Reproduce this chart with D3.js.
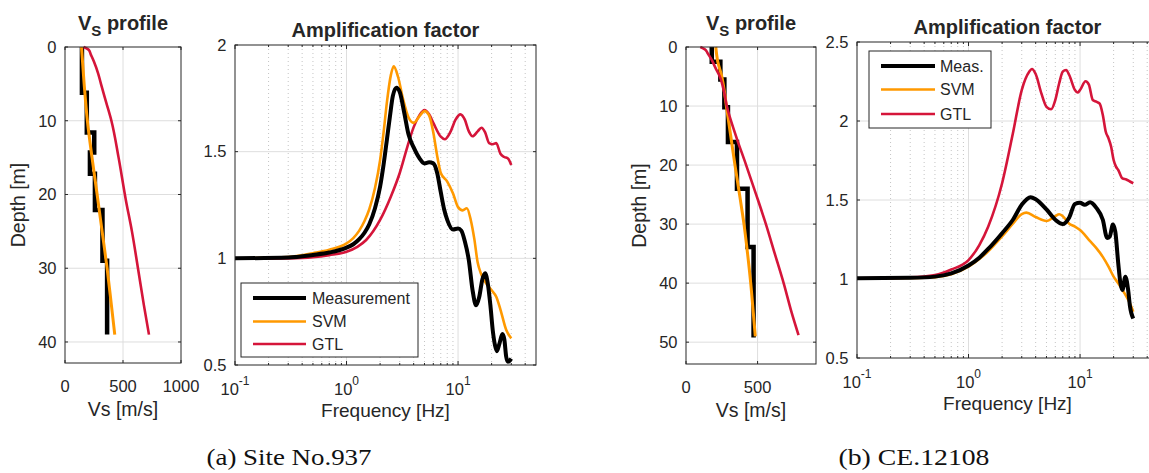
<!DOCTYPE html>
<html>
<head>
<meta charset="utf-8">
<script src="https://cdn.jsdelivr.net/npm/d3@7"></script>
<style>
  body { margin: 0; background: #fff; }
  svg { display: block; }
  text { font-family: "Liberation Sans", Arial, Helvetica, sans-serif; fill: #262626; }
  .caption { font-family: "Liberation Serif", "DejaVu Serif", serif; fill: #111; }
</style>
</head>
<body>
<script>
// ---------- Site No.937 : shear-wave velocity profile ----------
const measTopA    = [0, 6.2, 11.6, 14.3, 17.2, 22.1, 29.0];   // layer tops [m]
const measVsA     = [146, 188, 252, 215, 258, 323, 363];       // layer Vs [m/s]
const measBottomA = 39;
const svmDepthA = [0, 5, 10, 15, 20, 25, 30, 35, 39];
const svmVsA    = [142, 165, 193, 233, 277, 320, 363, 400, 429];
const gtlDepthA = [0, 0.4, 1, 2, 3.6, 5, 7.5, 10, 15, 20.7, 25, 30, 35, 39];
const gtlVsA    = [160, 205, 222, 250, 286, 310, 355, 400, 462, 524, 577, 629, 680, 724];

// ---------- Site No.937 : amplification factor ----------
const fMeasA   = [0.1, 0.3, 0.5, 0.7, 1, 1.15, 1.3, 1.45, 1.6, 1.8, 2, 2.15, 2.3, 2.45, 2.6, 2.8, 3.0, 3.3, 3.6, 4, 4.5, 5, 5.5, 6, 6.5, 7, 7.5, 8, 9, 10, 10.7, 11.5, 12.5, 13.5, 14.5, 15.5, 16.5, 17.5, 18.5, 19.5, 20.5, 21.5, 22.3, 23.5, 25, 26, 27, 28, 29, 30];
const ampMeasA = [1.0, 1.004, 1.016, 1.027, 1.05, 1.066, 1.09, 1.12, 1.16, 1.235, 1.336, 1.44, 1.555, 1.665, 1.76, 1.80, 1.78, 1.68, 1.58, 1.52, 1.47, 1.445, 1.45, 1.445, 1.40, 1.31, 1.23, 1.18, 1.135, 1.14, 1.13, 1.08, 0.99, 0.85, 0.78, 0.82, 0.90, 0.93, 0.88, 0.78, 0.66, 0.59, 0.565, 0.60, 0.645, 0.62, 0.54, 0.515, 0.52, 0.53];
const fSvmA    = [0.1, 0.3, 0.5, 0.7, 1, 1.15, 1.3, 1.45, 1.6, 1.8, 2, 2.15, 2.3, 2.5, 2.65, 2.9, 3.2, 3.6, 4, 4.5, 5, 5.5, 6, 6.5, 7, 8, 9, 10, 11, 12, 13, 14, 15, 16, 17.5, 20, 22, 24, 27, 30];
const ampSvmA  = [1.0, 1.006, 1.024, 1.04, 1.07, 1.095, 1.13, 1.175, 1.23, 1.33, 1.46, 1.59, 1.73, 1.86, 1.90, 1.85, 1.75, 1.66, 1.635, 1.665, 1.69, 1.67, 1.59, 1.48, 1.40, 1.36, 1.305, 1.24, 1.225, 1.235, 1.18, 1.09, 0.98, 0.93, 0.89, 0.85, 0.82, 0.76, 0.665, 0.625];
const fGtlA    = [0.1, 0.3, 0.5, 0.7, 1, 1.25, 1.5, 2, 2.5, 3, 3.5, 4, 4.5, 5, 5.5, 6, 7, 7.6, 8.5, 9.5, 10.5, 11.5, 12.5, 13.5, 15, 16.2, 17.5, 19, 20.5, 22, 24, 26, 28, 30];
const ampGtlA  = [0.998, 1.0, 1.005, 1.015, 1.031, 1.054, 1.086, 1.18, 1.29, 1.40, 1.52, 1.615, 1.67, 1.695, 1.675, 1.635, 1.57, 1.558, 1.59, 1.65, 1.675, 1.65, 1.595, 1.572, 1.595, 1.612, 1.59, 1.54, 1.535, 1.54, 1.49, 1.475, 1.468, 1.438];

// ---------- CE.12108 : shear-wave velocity profile ----------
const measTopB    = [0, 2.5, 5.5, 10.2, 16.1, 24.0, 33.9];
const measVsB     = [180, 240, 268, 293, 356, 430, 472];
const measBottomB = 49.2;
const svmDepthB = [0, 2.5, 5, 7.5, 10, 15, 20, 25, 30, 35, 40, 45, 49];
const svmVsB    = [208, 222, 250, 268, 282, 312, 342, 374, 405, 430, 452, 470, 484];
const gtlDepthB = [0, 0.4, 1, 2.2, 3.5, 5, 7.5, 10, 15, 20, 25, 30, 35, 40, 45, 48.8];
const gtlVsB    = [100, 132, 150, 180, 205, 236, 265, 285, 348, 420, 490, 558, 620, 682, 738, 786];

// ---------- CE.12108 : amplification factor ----------
const fMeasB   = [0.1, 0.3, 0.5, 0.7, 1, 1.25, 1.5, 2, 2.5, 3, 3.6, 4, 5, 6, 7, 8, 9, 10, 11, 12.3, 14, 16, 17.5, 18.5, 19.7, 20.7, 22, 23, 24, 25.5, 27, 28, 30];
const ampMeasB = [1.005, 1.008, 1.015, 1.035, 1.085, 1.135, 1.19, 1.29, 1.375, 1.47, 1.518, 1.505, 1.44, 1.375, 1.348, 1.39, 1.475, 1.483, 1.47, 1.485, 1.45, 1.375, 1.26, 1.27, 1.345, 1.30, 1.10, 0.975, 0.93, 1.015, 0.93, 0.83, 0.75];
const fSvmB    = [0.1, 0.3, 0.5, 0.7, 1, 1.25, 1.5, 2, 2.5, 3, 3.3, 4, 5, 6, 6.5, 7, 8, 9, 10, 12, 14, 16, 18, 20, 22, 25, 28, 30];
const ampSvmB  = [1.003, 1.006, 1.012, 1.03, 1.078, 1.126, 1.175, 1.27, 1.35, 1.41, 1.42, 1.392, 1.367, 1.398, 1.41, 1.397, 1.35, 1.332, 1.31, 1.248, 1.195, 1.14, 1.078, 1.015, 0.973, 0.91, 0.846, 0.793];
const fGtlB    = [0.1, 0.3, 0.5, 0.7, 1, 1.25, 1.5, 2, 2.5, 3, 3.5, 3.7, 4, 4.5, 5, 5.5, 6, 6.5, 7, 7.5, 8, 9, 9.5, 10, 11.2, 12, 13, 14, 15, 16, 17, 18, 19, 20, 21, 22, 24, 26, 28, 30];
const ampGtlB  = [1.004, 1.01, 1.025, 1.06, 1.12, 1.215, 1.331, 1.606, 1.922, 2.196, 2.312, 2.329, 2.297, 2.175, 2.09, 2.074, 2.133, 2.239, 2.312, 2.323, 2.291, 2.196, 2.18, 2.196, 2.252, 2.23, 2.133, 2.122, 2.11, 2.038, 1.932, 1.89, 1.837, 1.753, 1.711, 1.69, 1.637, 1.63, 1.617, 1.606];

// ---------- axes ticks, labels ----------
const vsTicksA    = [0, 500, 1000];
const depthTicksA = [0, 10, 20, 30, 40];
const vsTicksB    = [0, 500];
const depthTicksB = [0, 10, 20, 30, 40, 50];
const freqTicks   = [0.1, 1, 10];
const freqExps    = ["-1", "0", "1"];
const ampTicksA   = [0.5, 1, 1.5, 2];
const ampTicksB   = [0.5, 1, 1.5, 2, 2.5];
const legendA  = ["Measurement", "SVM", "GTL"];
const legendB  = ["Meas.", "SVM", "GTL"];
const captions = ["(a) Site No.937", "(b) CE.12108"];

// ---------- styling ----------
const COL = { meas: "#000000", svm: "#FF9900", gtl: "#D5153A" };
const AXIS = "#262626", GRID = "#dedede", MINOR = "#c4c4c4";

const W = 1149, H = 473;
const svg = d3.select("body").append("svg").attr("width", W).attr("height", H);

function frame(g, b) {
  g.append("rect").attr("x", b.x0).attr("y", b.y0)
    .attr("width", b.x1 - b.x0).attr("height", b.y1 - b.y0)
    .attr("fill", "none").attr("stroke", AXIS).attr("stroke-width", 1);
}

function hLine(g, x0, x1, yv, color, dash) {
  g.append("line").attr("x1", x0).attr("x2", x1).attr("y1", yv).attr("y2", yv)
    .attr("stroke", color).attr("stroke-width", 1).attr("stroke-dasharray", dash || null);
}
function vLine(g, xv, y0, y1, color, dash) {
  g.append("line").attr("x1", xv).attr("x2", xv).attr("y1", y0).attr("y2", y1)
    .attr("stroke", color).attr("stroke-width", 1).attr("stroke-dasharray", dash || null);
}

// ---------- velocity profile panel ----------
function vsPanel(b, vsMax, depthMax, vsTicks, depthTicks, meas, svm, gtl, title) {
  const g = svg.append("g");
  const x = d3.scaleLinear().domain([0, vsMax]).range([b.x0, b.x1]);
  const y = d3.scaleLinear().domain([0, depthMax]).range([b.y0, b.y1]);

  vsTicks.forEach(t => { if (t > 0 && t < vsMax) vLine(g, x(t), b.y0, b.y1, GRID); });
  depthTicks.forEach(t => { if (t > 0) hLine(g, b.x0, b.x1, y(t), GRID); });

  // tick marks inside the box
  vsTicks.forEach(t => {
    vLine(g, x(t), b.y1, b.y1 - 3, AXIS);
    vLine(g, x(t), b.y0, b.y0 + 3, AXIS);
  });
  depthTicks.forEach(t => {
    hLine(g, b.x0, b.x0 + 3, y(t), AXIS);
    hLine(g, b.x1 - 3, b.x1, y(t), AXIS);
  });

  // stair-step measured profile
  const steps = [];
  meas.top.forEach((t, i) => {
    const bot = i < meas.top.length - 1 ? meas.top[i + 1] : meas.bottom;
    steps.push([meas.vs[i], t], [meas.vs[i], bot]);
  });
  const stepLine = d3.line().x(d => x(d[0])).y(d => y(d[1]));
  g.append("path").attr("d", stepLine(steps)).attr("fill", "none")
    .attr("stroke", COL.meas).attr("stroke-width", 4.5).attr("stroke-linejoin", "miter");

  const smooth = d3.line().x(d => x(d[1])).y(d => y(d[0])).curve(d3.curveMonotoneY);
  g.append("path").attr("d", smooth(d3.zip(svm.depth, svm.vs))).attr("fill", "none")
    .attr("stroke", COL.svm).attr("stroke-width", 3);
  g.append("path").attr("d", smooth(d3.zip(gtl.depth, gtl.vs))).attr("fill", "none")
    .attr("stroke", COL.gtl).attr("stroke-width", 2.6);

  frame(g, b);

  vsTicks.forEach(t => {
    g.append("text").attr("x", x(t)).attr("y", b.y1 + 28.5).attr("text-anchor", "middle")
      .attr("font-size", 16.5).text(t);
  });
  depthTicks.forEach(t => {
    g.append("text").attr("x", b.x0 - 8.5).attr("y", y(t)).attr("dy", "0.35em")
      .attr("text-anchor", "end").attr("font-size", 16.5).text(t);
  });

  g.append("text").attr("x", (b.x0 + b.x1) / 2).attr("y", b.y1 + 52.5)
    .attr("text-anchor", "middle").attr("font-size", 19.5).text("Vs [m/s]");
  g.append("text").attr("transform", `translate(${b.x0 - 40},${(b.y0 + b.y1) / 2}) rotate(-90)`)
    .attr("text-anchor", "middle").attr("font-size", 19.5).text("Depth [m]");

  const tt = g.append("text").attr("x", (b.x0 + b.x1) / 2).attr("y", title)
    .attr("text-anchor", "middle").attr("font-size", 20).attr("font-weight", "bold");
  tt.append("tspan").text("V");
  tt.append("tspan").attr("font-size", 15).attr("dy", 6).text("S");
  tt.append("tspan").attr("dy", -6).text(" profile");
}

// ---------- amplification panel ----------
function ampPanel(b, yDomain, yTicks, series, legend, lb, titleY) {
  const g = svg.append("g");
  const x = d3.scaleLog().domain([0.1, 50]).range([b.x0, b.x1]);
  const y = d3.scaleLinear().domain(yDomain).range([b.y1, b.y0]);

  const minor = [];
  [0.1, 1, 10].forEach(d => { for (let k = 2; k <= 9; k++) if (d * k < 50) minor.push(d * k); });

  minor.forEach(v => vLine(g, x(v), b.y0, b.y1, MINOR, "1,3"));
  freqTicks.forEach(v => { if (v > 0.1) vLine(g, x(v), b.y0, b.y1, GRID); });
  yTicks.forEach(v => { if (v > yDomain[0] && v < yDomain[1]) hLine(g, b.x0, b.x1, y(v), GRID); });

  // tick marks
  minor.forEach(v => { vLine(g, x(v), b.y1, b.y1 - 2, AXIS); vLine(g, x(v), b.y0, b.y0 + 2, AXIS); });
  freqTicks.forEach(v => { vLine(g, x(v), b.y1, b.y1 - 4, AXIS); vLine(g, x(v), b.y0, b.y0 + 4, AXIS); });
  yTicks.forEach(v => { hLine(g, b.x0, b.x0 + 3, y(v), AXIS); hLine(g, b.x1 - 3, b.x1, y(v), AXIS); });

  const line = d3.line().x(d => x(d[0])).y(d => y(d[1])).curve(d3.curveMonotoneX);
  // draw GTL, SVM then measurement on top
  [series[2], series[1], series[0]].forEach(s => {
    g.append("path").attr("d", line(d3.zip(s.f, s.a))).attr("fill", "none")
      .attr("stroke", s.color).attr("stroke-width", s.w).attr("stroke-linejoin", "round");
  });

  frame(g, b);

  freqTicks.forEach((v, i) => {
    const t = g.append("text").attr("x", x(v)).attr("y", b.y1 + 30)
      .attr("text-anchor", "middle").attr("font-size", 16.5);
    t.append("tspan").text("10");
    t.append("tspan").attr("font-size", 12).attr("dy", -10).text(freqExps[i]);
  });
  yTicks.forEach(v => {
    g.append("text").attr("x", b.x0 - 8.5).attr("y", y(v)).attr("dy", "0.35em")
      .attr("text-anchor", "end").attr("font-size", 16.5).text(v);
  });

  g.append("text").attr("x", (b.x0 + b.x1) / 2).attr("y", b.y1 + 51.5)
    .attr("text-anchor", "middle").attr("font-size", 19).text("Frequency [Hz]");
  g.append("text").attr("x", (b.x0 + b.x1) / 2).attr("y", titleY)
    .attr("text-anchor", "middle").attr("font-size", 20).attr("font-weight", "bold")
    .text("Amplification factor");

  // legend
  const lg = g.append("g");
  lg.append("rect").attr("x", lb.x0).attr("y", lb.y0).attr("width", lb.x1 - lb.x0)
    .attr("height", lb.y1 - lb.y0).attr("fill", "#fff").attr("stroke", AXIS).attr("stroke-width", 1);
  legend.forEach((name, i) => {
    const yy = lb.rows[i];
    lg.append("line").attr("x1", lb.lx0).attr("x2", lb.lx1).attr("y1", yy).attr("y2", yy)
      .attr("stroke", series[i].color).attr("stroke-width", series[i].w);
    lg.append("text").attr("x", lb.tx).attr("y", yy).attr("dy", "0.35em")
      .attr("font-size", 16).text(name);
  });
}

vsPanel({ x0: 65, x1: 181, y0: 47, y1: 363 }, 1000, 42.85, vsTicksA, depthTicksA,
  { top: measTopA, vs: measVsA, bottom: measBottomA },
  { depth: svmDepthA, vs: svmVsA }, { depth: gtlDepthA, vs: gtlVsA }, 30);

ampPanel({ x0: 235, x1: 536, y0: 45, y1: 365 }, [0.5, 2], ampTicksA,
  [{ f: fMeasA, a: ampMeasA, color: COL.meas, w: 4 },
   { f: fSvmA, a: ampSvmA, color: COL.svm, w: 2.6 },
   { f: fGtlA, a: ampGtlA, color: COL.gtl, w: 2.6 }],
  legendA, { x0: 241, x1: 418, y0: 283, y1: 357, lx0: 253, lx1: 306, tx: 312, rows: [298, 321.5, 344] }, 36.5);

vsPanel({ x0: 686, x1: 816, y0: 47, y1: 364 }, 908, 53.7, vsTicksB, depthTicksB,
  { top: measTopB, vs: measVsB, bottom: measBottomB },
  { depth: svmDepthB, vs: svmVsB }, { depth: gtlDepthB, vs: gtlVsB }, 30);

ampPanel({ x0: 857, x1: 1158, y0: 42, y1: 358 }, [0.5, 2.5], ampTicksB,
  [{ f: fMeasB, a: ampMeasB, color: COL.meas, w: 4 },
   { f: fSvmB, a: ampSvmB, color: COL.svm, w: 2.6 },
   { f: fGtlB, a: ampGtlB, color: COL.gtl, w: 2.6 }],
  legendB, { x0: 869, x1: 991, y0: 51, y1: 128, lx0: 881, lx1: 935, tx: 940, rows: [66, 89.5, 114] }, 33.5);

// sub-figure captions
svg.append("text").attr("class", "caption").attr("x", 289).attr("y", 465)
  .attr("text-anchor", "middle").attr("font-size", 23)
  .attr("textLength", 165).attr("lengthAdjust", "spacingAndGlyphs").text(captions[0]);
svg.append("text").attr("class", "caption").attr("x", 914).attr("y", 465)
  .attr("text-anchor", "middle").attr("font-size", 23)
  .attr("textLength", 151).attr("lengthAdjust", "spacingAndGlyphs").text(captions[1]);
</script>
</body>
</html>
